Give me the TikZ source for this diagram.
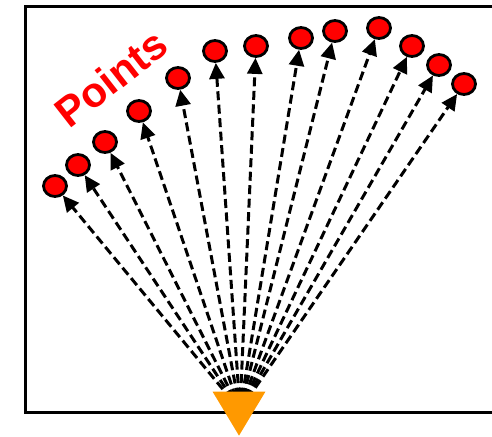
\documentclass[tikz,border=0pt]{standalone}
\usepackage{fontspec}
\setmainfont{Liberation Sans}
\usetikzlibrary{arrows.meta,shapes.geometric}
\definecolor{ptred}{RGB}{255,0,0}
\definecolor{srcorange}{RGB}{255,153,0}
\tikzset{
  pt/.style={ellipse,draw=black,fill=ptred,line width=2.8pt,minimum width=23pt,minimum height=21pt,inner sep=0pt},
  tipstyle/.tip={Triangle[length=16pt,width=15pt]},
  ray/.style={dash pattern=on 9pt off 4.5pt,line width=3pt,-tipstyle},
  frame/.style={draw=black,line width=3pt}
}
\begin{document}
\begin{tikzpicture}[x=1pt,y=-1pt]
\clip (0,0) rectangle (492,436);
\draw[frame] (25,7) rectangle (520,412);
\coordinate (src) at (240,410);
\node[pt] (c1) at (55,186) {};
\node[pt] (c2) at (78,165) {};
\node[pt] (c3) at (105,142) {};
\node[pt] (c4) at (139,111) {};
\node[pt] (c5) at (178,78) {};
\node[pt] (c6) at (215,51) {};
\node[pt] (c7) at (256,46) {};
\node[pt] (c8) at (301,38) {};
\node[pt] (c9) at (335,31) {};
\node[pt] (c10) at (379,28) {};
\node[pt] (c11) at (412,46) {};
\node[pt] (c12) at (439,65) {};
\node[pt] (c13) at (464,84) {};
\foreach \i in {1,...,13} {\draw[ray] (src) -- (c\i);}
\node[text=ptred,font=\bfseries\fontsize{42}{44}\selectfont,rotate=38] (lbl) at (111,78) {Points};
\node[draw=none,fill=srcorange,isosceles triangle,isosceles triangle apex angle=62,shape border rotate=-90,minimum height=44pt,inner sep=0pt,anchor=apex] (tri) at (239,436) {};
\end{tikzpicture}
\end{document}
